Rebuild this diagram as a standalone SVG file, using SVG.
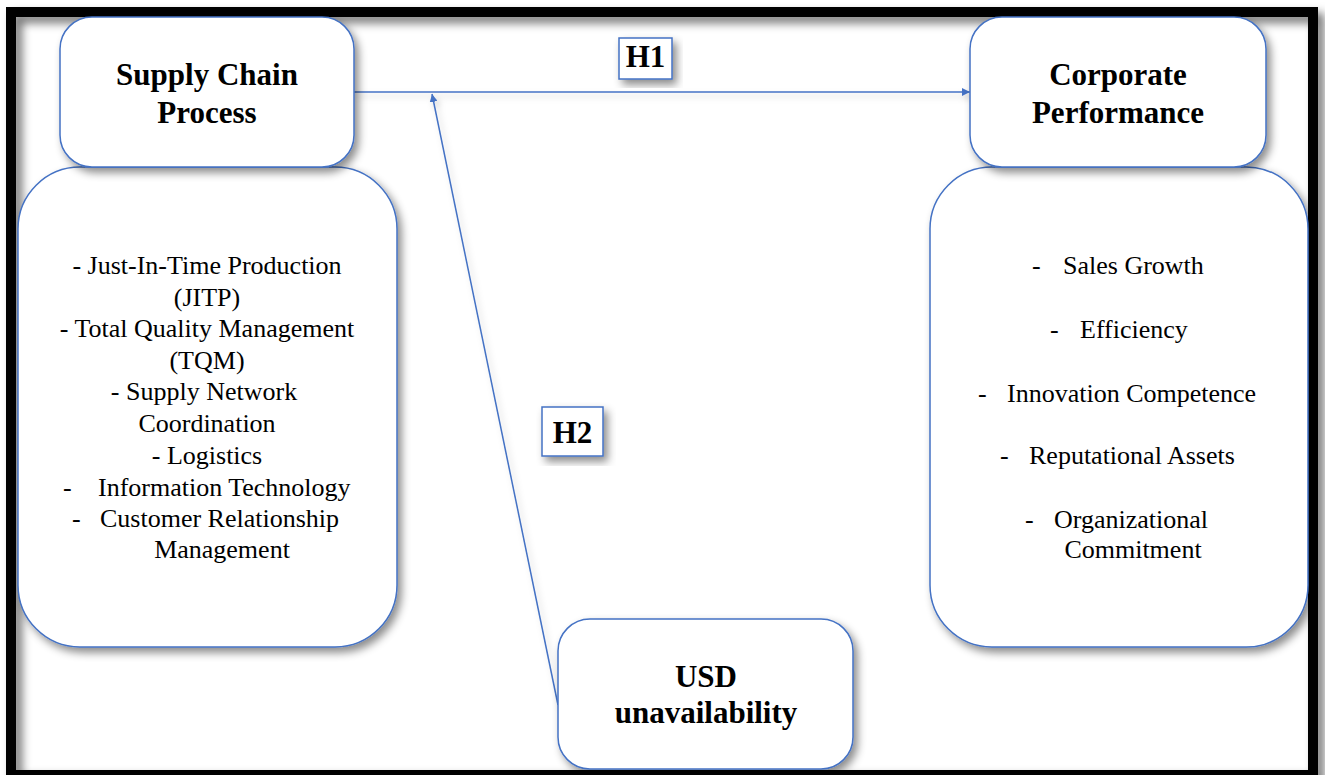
<svg xmlns="http://www.w3.org/2000/svg" width="1325" height="775" viewBox="0 0 1325 775">
<defs>
<filter id="sh" x="-20%" y="-20%" width="140%" height="140%">
<feDropShadow dx="4" dy="5" stdDeviation="4" flood-color="#000" flood-opacity="0.45"/>
</filter>
<filter id="shl" x="-5%" y="-50%" width="110%" height="200%">
<feDropShadow dx="3" dy="4" stdDeviation="3" flood-color="#000" flood-opacity="0.2"/>
</filter>
<filter id="shf" x="-5%" y="-5%" width="110%" height="110%">
<feDropShadow dx="6" dy="6" stdDeviation="5" flood-color="#000" flood-opacity="0.55"/>
</filter>
<marker id="ah" viewBox="0 0 10 10" refX="10" refY="5" markerWidth="8" markerHeight="8" markerUnits="userSpaceOnUse" orient="auto">
<path d="M0,0 L10,5 L0,10 z" fill="#4472C4"/>
</marker>
<style>
.box{fill:#fff;stroke:#4472C4;stroke-width:1.5;filter:url(#sh)}
.lbl{fill:#fff;stroke:#4472C4;stroke-width:1.5;filter:url(#sh)}
.t{font-family:"Liberation Serif","Times New Roman",serif;font-weight:bold;font-size:31px;fill:#000;text-anchor:middle}
.l{font-family:"Liberation Serif","Times New Roman",serif;font-size:26px;fill:#000}
.c{text-anchor:middle}
.con{stroke:#4472C4;stroke-width:1.5;fill:none;marker-end:url(#ah)}
</style>
</defs>
<rect x="0" y="0" width="1325" height="775" fill="#fff"/>
<rect x="11" y="12" width="1302" height="763" fill="none" stroke="#000" stroke-width="10" filter="url(#shf)"/>

<g id="connectors" filter="url(#shl)">
<line class="con" x1="354" y1="92" x2="970" y2="92"/>
<line class="con" x1="558" y1="705" x2="432" y2="94"/>
</g>

<g id="node-scp-list">
<rect class="box" x="18" y="167" width="379" height="480" rx="62" ry="62"/>
<text class="l c" x="207" y="274">- Just-In-Time Production</text>
<text class="l c" x="207" y="306">(JITP)</text>
<text class="l c" x="207" y="337">- Total Quality Management</text>
<text class="l c" x="207" y="369">(TQM)</text>
<text class="l c" x="204" y="400">- Supply Network</text>
<text class="l c" x="207" y="432">Coordination</text>
<text class="l c" x="207" y="464">- Logistics</text>
<text class="l" y="496"><tspan x="63">-</tspan><tspan x="98">Information Technology</tspan></text>
<text class="l" y="527"><tspan x="72">-</tspan><tspan x="100">Customer Relationship</tspan></text>
<text class="l c" x="222" y="558">Management</text>
</g>

<g id="node-scp">
<rect class="box" x="60" y="17" width="294" height="150" rx="32" ry="32"/>
<text class="t" x="207" y="85">Supply Chain</text>
<text class="t" x="207" y="123">Process</text>
</g>

<g id="node-cp-list">
<rect class="box" x="930" y="167" width="378" height="480" rx="62" ry="62"/>
<text class="l" y="274"><tspan x="1032">-</tspan><tspan x="1063">Sales Growth</tspan></text>
<text class="l" y="338"><tspan x="1050">-</tspan><tspan x="1080">Efficiency</tspan></text>
<text class="l" y="402"><tspan x="978">-</tspan><tspan x="1007">Innovation Competence</tspan></text>
<text class="l" y="464"><tspan x="1000">-</tspan><tspan x="1029">Reputational Assets</tspan></text>
<text class="l" y="528"><tspan x="1025">-</tspan><tspan x="1054">Organizational</tspan></text>
<text class="l c" x="1133" y="558">Commitment</text>
</g>

<g id="node-cp">
<rect class="box" x="970" y="17" width="296" height="150" rx="32" ry="32"/>
<text class="t" x="1118" y="85">Corporate</text>
<text class="t" x="1118" y="123">Performance</text>
</g>

<g id="node-usd">
<rect class="box" x="558" y="619" width="295" height="150" rx="32" ry="32"/>
<text class="t" x="706" y="687">USD</text>
<text class="t" x="706" y="723">unavailability</text>
</g>

<g id="label-h1">
<rect class="lbl" x="619" y="38" width="53" height="41"/>
<text class="t" x="645.5" y="67">H1</text>
</g>

<g id="label-h2">
<rect class="lbl" x="542" y="407" width="61" height="49"/>
<text class="t" x="572.5" y="443">H2</text>
</g>
</svg>
